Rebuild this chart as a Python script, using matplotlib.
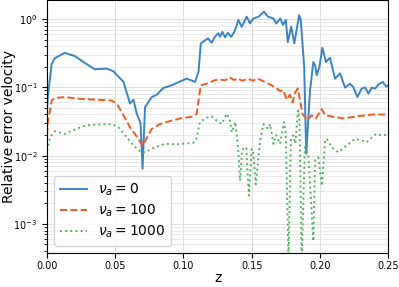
import numpy as np
from matplotlib import pyplot as plt

# nu_a = 0
z0 = [0.0, 0.0005, 0.0034, 0.0059, 0.013, 0.0205, 0.0266, 0.035, 0.0437, 0.0486,
      0.056, 0.0608, 0.0633, 0.0658, 0.0685, 0.070, 0.0718, 0.0767, 0.0804, 0.0853,
      0.0914, 0.0975, 0.1024, 0.1085, 0.111, 0.1127, 0.116, 0.118, 0.1207, 0.123,
      0.1256, 0.1268, 0.1285, 0.1305, 0.1325, 0.135, 0.1373, 0.1403, 0.1427, 0.1464,
      0.1488, 0.1512, 0.155, 0.159, 0.162, 0.166, 0.168, 0.171, 0.173, 0.175,
      0.1765, 0.179, 0.1813, 0.1848, 0.186, 0.1885, 0.190, 0.1928, 0.1952, 0.1965,
      0.1977, 0.1997, 0.2018, 0.2045, 0.2074, 0.2111, 0.2148, 0.2185, 0.2221, 0.2246,
      0.2275, 0.2307, 0.2331, 0.2356, 0.238, 0.2405, 0.2429, 0.2461, 0.2485, 0.25]
e0 = [0.046, 0.072, 0.22, 0.27, 0.32, 0.286, 0.235, 0.184, 0.188, 0.172,
      0.12, 0.058, 0.066, 0.041, 0.03, 0.0064, 0.051, 0.072, 0.078, 0.098,
      0.107, 0.122, 0.134, 0.12, 0.168, 0.44, 0.49, 0.52, 0.45, 0.55,
      0.62, 0.55, 0.65, 0.54, 0.63, 0.55, 0.65, 0.97, 0.77, 1.08,
      0.86, 1.02, 1.08, 1.28, 1.08, 1.02, 0.86, 1.02, 0.82, 0.97,
      0.46, 0.77, 0.44, 1.14, 0.97, 0.2, 0.0106, 0.09, 0.235, 0.21,
      0.15, 0.2, 0.38, 0.235, 0.27, 0.134, 0.16, 0.099, 0.113, 0.1,
      0.072, 0.096, 0.1, 0.081, 0.099, 0.096, 0.11, 0.12, 0.103, 0.107]

# nu_a = 100
z1 = [0.0, 0.0005, 0.0034, 0.0059, 0.013, 0.023, 0.035, 0.0474, 0.051, 0.056,
      0.0608, 0.065, 0.070, 0.0767, 0.0828, 0.09, 0.0975, 0.1073, 0.1097, 0.111,
      0.1127, 0.117, 0.123, 0.1256, 0.1305, 0.134, 0.137, 0.140, 0.143, 0.1476,
      0.151, 0.154, 0.157, 0.1647, 0.171, 0.173, 0.1757, 0.178, 0.18, 0.1818,
      0.1838, 0.1855, 0.1872, 0.188, 0.1908, 0.194, 0.197, 0.2014, 0.2038, 0.21,
      0.217, 0.227, 0.239, 0.25]
e1 = [0.02, 0.03, 0.064, 0.07, 0.072, 0.068, 0.066, 0.064, 0.058, 0.039,
      0.026, 0.02, 0.014, 0.0246, 0.029, 0.032, 0.035, 0.0375, 0.041, 0.064,
      0.107, 0.113, 0.127, 0.13, 0.127, 0.14, 0.128, 0.134, 0.125, 0.133,
      0.125, 0.135, 0.127, 0.107, 0.088, 0.092, 0.066, 0.078, 0.06, 0.083,
      0.096, 0.064, 0.041, 0.039, 0.033, 0.039, 0.035, 0.048, 0.039, 0.037,
      0.035, 0.0375, 0.04, 0.04]

# nu_a = 1000
z2 = [0.0, 0.0022, 0.0059, 0.013, 0.018, 0.0279, 0.0376, 0.0474, 0.0523, 0.0572,
      0.0633, 0.0694, 0.0718, 0.0792, 0.0865, 0.095, 0.1073, 0.1097, 0.112, 0.117,
      0.1207, 0.124, 0.128, 0.1317, 0.134, 0.1354, 0.138, 0.140, 0.1415, 0.143,
      0.1446, 0.146, 0.148, 0.150, 0.151, 0.153, 0.1562, 0.1586, 0.1622, 0.1635,
      0.166, 0.168, 0.1708, 0.1737, 0.175, 0.177, 0.1787, 0.1806, 0.182, 0.184,
      0.185, 0.1867, 0.189, 0.1916, 0.1952, 0.1965, 0.1989, 0.2014, 0.2038, 0.205,
      0.2087, 0.2135, 0.2197, 0.2258, 0.2307, 0.2344, 0.2412, 0.2454, 0.25]
e2 = [0.0118, 0.0187, 0.0228, 0.0208, 0.023, 0.0276, 0.0286, 0.029, 0.026, 0.0198,
      0.0141, 0.011, 0.0112, 0.0133, 0.0149, 0.0146, 0.0154, 0.018, 0.031, 0.036,
      0.0375, 0.033, 0.029, 0.041, 0.033, 0.022, 0.031, 0.0133, 0.0043, 0.012,
      0.0133, 0.013, 0.0026, 0.0125, 0.012, 0.0038, 0.0166, 0.029, 0.0247, 0.029,
      0.0149, 0.02, 0.0149, 0.031, 0.021, 0.0003, 0.0176, 0.0198, 0.015, 0.046,
      0.035, 0.0003, 0.0133, 0.01, 0.00056, 0.0085, 0.0094, 0.0036, 0.0166, 0.0176,
      0.0133, 0.0112, 0.0141, 0.0176, 0.0166, 0.0157, 0.0208, 0.0198, 0.0203]

fig = plt.figure(figsize=(3.99, 2.87), dpi=100)
ax = fig.add_axes([0.118, 0.1185, 0.8546, 0.8815])

ax.plot(z0, e0, color='#3b84c4', lw=1.4, label=r'$\nu_a = 0$')
ax.plot(z1, e1, color='#ea5e22', lw=1.4, ls='--', label=r'$\nu_a = 100$')
ax.plot(z2, e2, color='#52b05a', lw=1.4, ls=':', label=r'$\nu_a = 1000$')

ax.set_yscale('log')
ax.set_xlim(0, 0.25)
ax.set_ylim(3.75e-4, 1.9)
ax.set_xticks([0.0, 0.05, 0.10, 0.15, 0.20, 0.25])
ax.set_xticklabels(['0.00', '0.05', '0.10', '0.15', '0.20', '0.25'])
ax.tick_params(labelsize=7)
ax.tick_params(axis='x', pad=2)
ax.grid(which='major', color='#dddddd', lw=0.7)
ax.grid(which='minor', axis='y', color='#e6e6e6', lw=0.6)
ax.set_axisbelow(True)

ax.set_xlabel('z', fontsize=10, labelpad=0)
ax.set_ylabel('Relative error velocity', fontsize=10)
ax.yaxis.set_label_coords(-0.092, 0.5)
ax.legend(loc='lower left', fontsize=10, labelspacing=0.35)

fig.savefig('out.png', dpi=100)
